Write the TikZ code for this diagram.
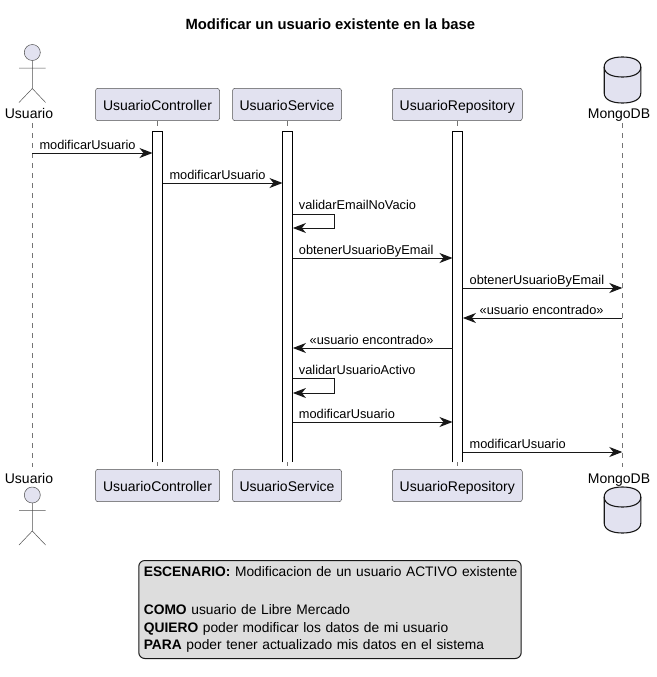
\documentclass[tikz,border=0pt]{standalone}
\usepackage{fontspec}
\setmainfont{Liberation Sans}
\usetikzlibrary{arrows.meta}
\definecolor{partfill}{HTML}{E2E2F0}
\definecolor{ink}{HTML}{181818}
\definecolor{notefill}{HTML}{DDDDDD}
\tikzset{
  x=1pt,y=-1pt,
  partbox/.style={draw=ink!75,line width=.5pt,fill=partfill,rounded corners=2.5pt,inner sep=0pt,minimum height=32.4pt,font=\fontsize{14}{16}\selectfont,text height=12pt,text depth=1pt},
  lbl/.style={anchor=base west,inner sep=0pt,font=\fontsize{12.8}{15}\selectfont,text=black},
  partlbl/.style={anchor=base,inner sep=0pt,font=\fontsize{14}{16}\selectfont,text=black},
  msg/.style={draw=ink,line width=1pt,-{Stealth[length=13pt,width=10pt,inset=4pt,color=ink]}},
  life/.style={draw=ink!60,line width=.5pt,dash pattern=on 5pt off 5pt},
  actorline/.style={draw=ink!75,line width=.5pt},
  bar/.style={fill=white,inner sep=0pt,minimum width=10pt,minimum height=331pt,anchor=north},
  barline/.style={draw=black,line width=1pt},
  dbline/.style={draw=ink,line width=1.1pt,fill=partfill},
  notebox/.style={draw=ink,line width=1pt,fill=notefill,rounded corners=6pt,anchor=north west,inner xsep=5pt,inner ysep=0pt,text width=372.4pt,minimum height=98pt,align=left,font=\fontsize{13.8}{17.3}\selectfont},
}
\begin{document}
\begin{tikzpicture}
\path[use as bounding box,fill=white] (0,0) rectangle (656,677);
\node[anchor=base,inner sep=0pt,font=\fontsize{14.8}{16}\selectfont\bfseries] (title) at (330.3,30) {Modificar un usuario existente en la base};

% participants
\node[partbox,minimum width=124pt] (cT) at (157.5,104.5) {UsuarioController};
\node[partbox,minimum width=109pt] (sT) at (287,104.5) {UsuarioService};
\node[partbox,minimum width=130pt] (rT) at (457.3,104.5) {UsuarioRepository};
\node[partbox,minimum width=124pt] (cB) at (157.5,485.5) {UsuarioController};
\node[partbox,minimum width=109pt] (sB) at (287,485.5) {UsuarioService};
\node[partbox,minimum width=130pt] (rB) at (457.3,485.5) {UsuarioRepository};
\node[partlbl] (uT) at (29,118) {Usuario};
\node[partlbl] (uB) at (29,483.5) {Usuario};
\node[partlbl] (mT) at (619,118) {MongoDB};
\node[partlbl] (mB) at (619,483.5) {MongoDB};

\coordinate (uX) at (32.3,0);
\coordinate (mX) at (622.3,0);

% lifelines
\draw[life] (uX |- 0,123) -- (uX |- 0,467);
\draw[life] (cT.south) -- (cB.north);
\draw[life] (sT.south) -- (sB.north);
\draw[life] (rT.south) -- (rB.north);
\draw[life] (mX |- 0,123) -- (mX |- 0,467);

% activation bars
\node[bar] (aC) at (157.7,131) {};
\node[bar] (aS) at (287.7,131) {};
\node[bar] (aR) at (457.7,131) {};
\foreach \b in {aC,aS,aR}{
  \draw[barline] (\b.south west) -- (\b.north west) -- (\b.north east) -- (\b.south east);
}

% actors
\foreach \y in {52.5,495}{
  \begin{scope}[shift={(32.3,\y)}]
    \draw[actorline] (0,8) -- (0,36) (-13.3,15.7) -- (13.3,15.7) (0,36) -- (-13.3,50) (0,36) -- (13.3,50);
    \draw[actorline,fill=partfill] (0,0) circle (8pt);
  \end{scope}
}

% databases
\foreach \y in {57,487}{
  \begin{scope}[shift={(622.5,\y)}]
    \draw[dbline] (-18.3,10) .. controls (-18.3,3) and (-10,0) .. (0,0) .. controls (10,0) and (18.3,3) .. (18.3,10)
      -- (18.3,36) .. controls (18.3,43) and (10,46) .. (0,46) .. controls (-10,46) and (-18.3,43) .. (-18.3,36) -- cycle;
    \draw[draw=ink,line width=1.1pt] (-18.3,10) .. controls (-18.3,17) and (-10,20) .. (0,20) .. controls (10,20) and (18.3,17) .. (18.3,10);
  \end{scope}
}

% message rows
\foreach \n/\y in {a/153,b/183,c/214,cc/228,d/258,e/288,f/318,g/348,h/378,hh/393,i/422,j/452}{
  \coordinate (y\n) at (0,\y);
}
\draw[msg] (uX |- ya) -- (aC.west |- ya);
\draw[msg] (aC.east |- yb) -- (aS.west |- yb);
\draw[msg] (aS.east |- yc) -- (334.5,214) -- (334.5,228) -- (aS.east |- ycc);
\draw[msg] (aS.east |- yd) -- (aR.west |- yd);
\draw[msg] (aR.east |- ye) -- (mX |- ye);
\draw[msg] (mX |- yf) -- (aR.east |- yf);
\draw[msg] (aR.west |- yg) -- (aS.east |- yg);
\draw[msg] (aS.east |- yh) -- (334.5,378) -- (334.5,393) -- (aS.east |- yhh);
\draw[msg] (aS.east |- yi) -- (aR.west |- yi);
\draw[msg] (aR.east |- yj) -- (mX |- yj);

% message labels
\node[lbl] (l1) at (39.3,149.2) {modificarUsuario};
\node[lbl] (l2) at (169.3,179.2) {modificarUsuario};
\node[lbl] (l3) at (298.7,209.5) {validarEmailNoVacio};
\node[lbl] (l4) at (298.7,254.2) {obtenerUsuarioByEmail};
\node[lbl] (l5) at (469.5,284.2) {obtenerUsuarioByEmail};
\node[lbl] (l6) at (479.5,314.2) {«usuario encontrado»};
\node[lbl] (l7) at (309.5,344.2) {«usuario encontrado»};
\node[lbl] (l8) at (298.7,374.5) {validarUsuarioActivo};
\node[lbl] (l9) at (298.7,418.2) {modificarUsuario};
\node[lbl] (l10) at (469.5,448.2) {modificarUsuario};

% note
\node[notebox] (note) at (138.3,560) {\vspace*{3.5pt}\mbox{\textbf{ESCENARIO:} Modificacion de un usuario ACTIVO existente}\\[17.3pt]
\textbf{COMO} usuario de Libre Mercado\\
\textbf{QUIERO} poder modificar los datos de mi usuario\\
\textbf{PARA} poder tener actualizado mis datos en el sistema};
\end{tikzpicture}
\end{document}
